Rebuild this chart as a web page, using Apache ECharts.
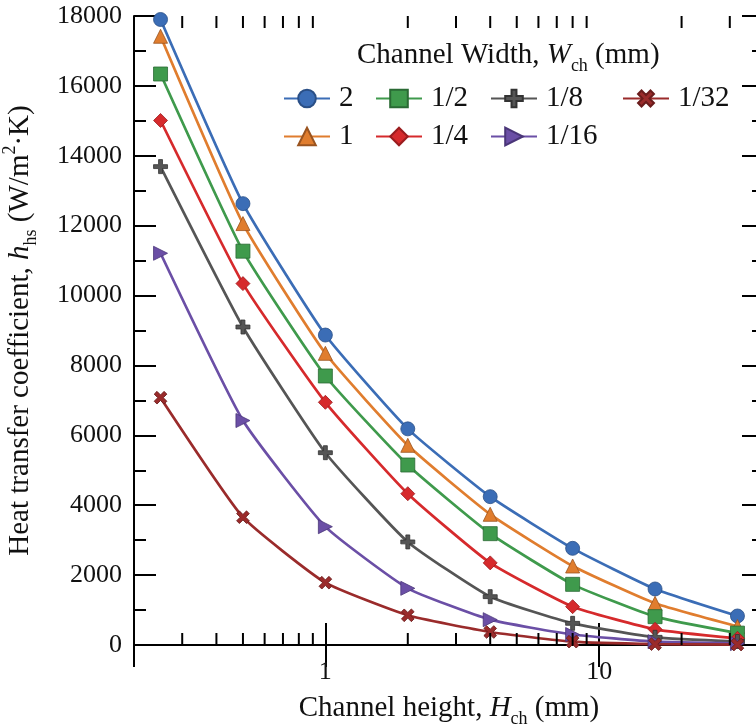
<!DOCTYPE html>
<html>
<head>
<meta charset="utf-8">
<script src="https://cdn.jsdelivr.net/npm/echarts@6/dist/echarts.min.js"></script>
<style>
  html, body { margin: 0; padding: 0; background: #fff; }
  #chart { width: 756px; height: 725px; }
</style>
</head>
<body>
<div id="chart"></div>
<script>
// channel height (mm)
const heights = [0.25, 0.5, 1, 2, 4, 8, 16, 32];
// heat transfer coefficient per channel width
const w2 = [17900, 12630, 8870, 6185, 4245, 2766, 1603, 830];
const w1 = [17420, 12060, 8347, 5714, 3740, 2261, 1192, 530];
const w1_2 = [16340, 11270, 7698, 5151, 3186, 1736, 811, 340];
const w1_4 = [15010, 10342, 6945, 4330, 2350, 1097, 449, 191];
const w1_8 = [13690, 9100, 5503, 2950, 1383, 620, 220, 100];
const w1_16 = [11210, 6423, 3386, 1622, 725, 300, 95, 40];
const w1_32 = [7077, 3657, 1783, 850, 372, 95, 25, 12];
const minorX = [0.3, 0.4, 0.5, 0.6, 0.7, 0.8, 0.9, 2, 3, 4, 5, 6, 7, 8, 9, 20, 30];
const X_MIN = 0.2, X_MAX = 40, Y_MAX = 18000;

const FONT = "'Liberation Serif', 'Times New Roman', serif";
const PLUS = 'path://M3.6,0H6.4V3.6H10V6.4H6.4V10H3.6V6.4H0V3.6H3.6Z';

const chart = echarts.init(document.getElementById('chart'));

function mk(name, vals, color, border, symbol, rot) {
  return {
    name: name,
    type: 'line',
    smooth: 0.15,
    data: heights.map((h, i) => [h, vals[i]]),
    symbol: symbol,
    symbolSize: 14,
    symbolRotate: rot || 0,
    lineStyle: { color: color, width: 2.7 },
    itemStyle: { color: color, borderColor: border, borderWidth: 0.8 },
    z: 3
  };
}

const seriesList = [
  mk('2', w2, '#3b6db6', '#2a4f86', 'circle'),
  mk('1', w1, '#e07d2e', '#9a5420', 'triangle'),
  mk('1/2', w1_2, '#3f9a4c', '#2a6a34', 'rect'),
  mk('1/4', w1_4, '#d62a2c', '#9a1c1e', 'diamond'),
  mk('1/8', w1_8, '#555555', '#333333', PLUS),
  mk('1/16', w1_16, '#6b4fa6', '#4a3678', 'triangle', -90),
  mk('1/32', w1_32, '#9a2b2b', '#6a1c1c', PLUS, 45)
];

// minor ticks of the log axis, bottom and top
seriesList.push({
  type: 'custom',
  silent: true,
  data: minorX.map(v => [v, 0]),
  clip: false,
  z: 5,
  renderItem: function (params, api) {
    const v = api.value(0);
    const b = api.coord([v, 0]);
    const t = api.coord([v, Y_MAX]);
    return {
      type: 'group',
      children: [
        { type: 'line', shape: { x1: b[0], y1: b[1], x2: b[0], y2: b[1] - 12 }, style: { stroke: '#000', lineWidth: 2 } },
        { type: 'line', shape: { x1: t[0], y1: t[1], x2: t[0], y2: t[1] + 12 }, style: { stroke: '#000', lineWidth: 2 } }
      ]
    };
  }
});

const legendBase = {
  orient: 'vertical',
  top: 84,
  padding: 0,
  itemWidth: 46,
  itemHeight: 22,
  itemGap: 9,
  textStyle: { fontFamily: FONT, fontSize: 29, color: '#111', padding: [0, 0, 0, 4] }
};

const richSub = (size) => ({
  i: { fontFamily: FONT, fontSize: size, fontStyle: 'italic', color: '#111' },
  sub: { fontFamily: FONT, fontSize: Math.round(size * 0.62), color: '#111', verticalAlign: 'bottom', lineHeight: size + 10 },
  sup: { fontFamily: FONT, fontSize: Math.round(size * 0.62), color: '#111', verticalAlign: 'top', lineHeight: size + 10 }
});

const option = {
  animation: false,
  backgroundColor: '#fff',
  title: {
    text: 'Channel Width, {i|W}{sub|ch} (mm)',
    left: 357,
    top: 36,
    padding: 0,
    textStyle: {
      fontFamily: FONT, fontSize: 29, fontWeight: 'normal', color: '#111',
      rich: richSub(29)
    }
  },
  legend: [
    Object.assign({}, legendBase, { left: 283, data: ['2', '1'] }),
    Object.assign({}, legendBase, { left: 375, data: ['1/2', '1/4'] }),
    Object.assign({}, legendBase, { left: 490, data: ['1/8', '1/16'] }),
    Object.assign({}, legendBase, { left: 622, data: ['1/32'] })
  ],
  grid: { left: 134, right: -8, top: 16, bottom: 80, outerBoundsMode: 'none' },
  xAxis: [{
    type: 'log',
    logBase: 10,
    min: X_MIN,
    max: X_MAX,
    name: 'Channel height, {i|H}{sub|ch} (mm)',
    nameLocation: 'middle',
    nameGap: 44,
    nameTextStyle: {
      fontFamily: FONT, fontSize: 29, color: '#111',
      rich: richSub(29)
    },
    axisLine: { lineStyle: { color: '#000', width: 2 } },
    axisTick: { inside: true, length: 22, lineStyle: { color: '#000', width: 2 } },
    axisLabel: {
      fontFamily: FONT, fontSize: 26, color: '#111', margin: 14,
      formatter: v => (v === 1 || v === 10) ? String(v) : ''
    },
    splitLine: { show: false }
  }, {
    type: 'log',
    logBase: 10,
    min: X_MIN,
    max: X_MAX,
    position: 'top',
    axisLine: { lineStyle: { color: '#000', width: 2 } },
    axisTick: { inside: true, length: 22, lineStyle: { color: '#000', width: 2 } },
    axisLabel: { show: false },
    splitLine: { show: false }
  }],
  yAxis: [{
    type: 'value',
    min: 0,
    max: Y_MAX,
    interval: 2000,
    name: 'Heat transfer coefficient, {i|h}{sub|hs} (W/m{sup|2}·K)',
    nameLocation: 'middle',
    nameGap: 94,
    nameTextStyle: {
      fontFamily: FONT, fontSize: 29, color: '#111',
      rich: richSub(29)
    },
    axisLine: { show: true, lineStyle: { color: '#000', width: 2 } },
    axisTick: { show: true, inside: true, length: 22, lineStyle: { color: '#000', width: 2 } },
    minorTick: { show: true, splitNumber: 2, length: 12, lineStyle: { color: '#000', width: 2 } },
    axisLabel: { fontFamily: FONT, fontSize: 26, color: '#111', margin: 12, formatter: v => String(v) },
    splitLine: { show: false }
  }, {
    type: 'value',
    min: 0,
    max: Y_MAX,
    interval: 2000,
    position: 'right',
    axisLine: { show: true, lineStyle: { color: '#000', width: 2 } },
    axisTick: { show: true, inside: true, length: 22, lineStyle: { color: '#000', width: 2 } },
    minorTick: { show: true, splitNumber: 2, length: 12, lineStyle: { color: '#000', width: 2 } },
    axisLabel: { show: false },
    splitLine: { show: false }
  }],
  series: seriesList
};

chart.setOption(option);
</script>
</body>
</html>
